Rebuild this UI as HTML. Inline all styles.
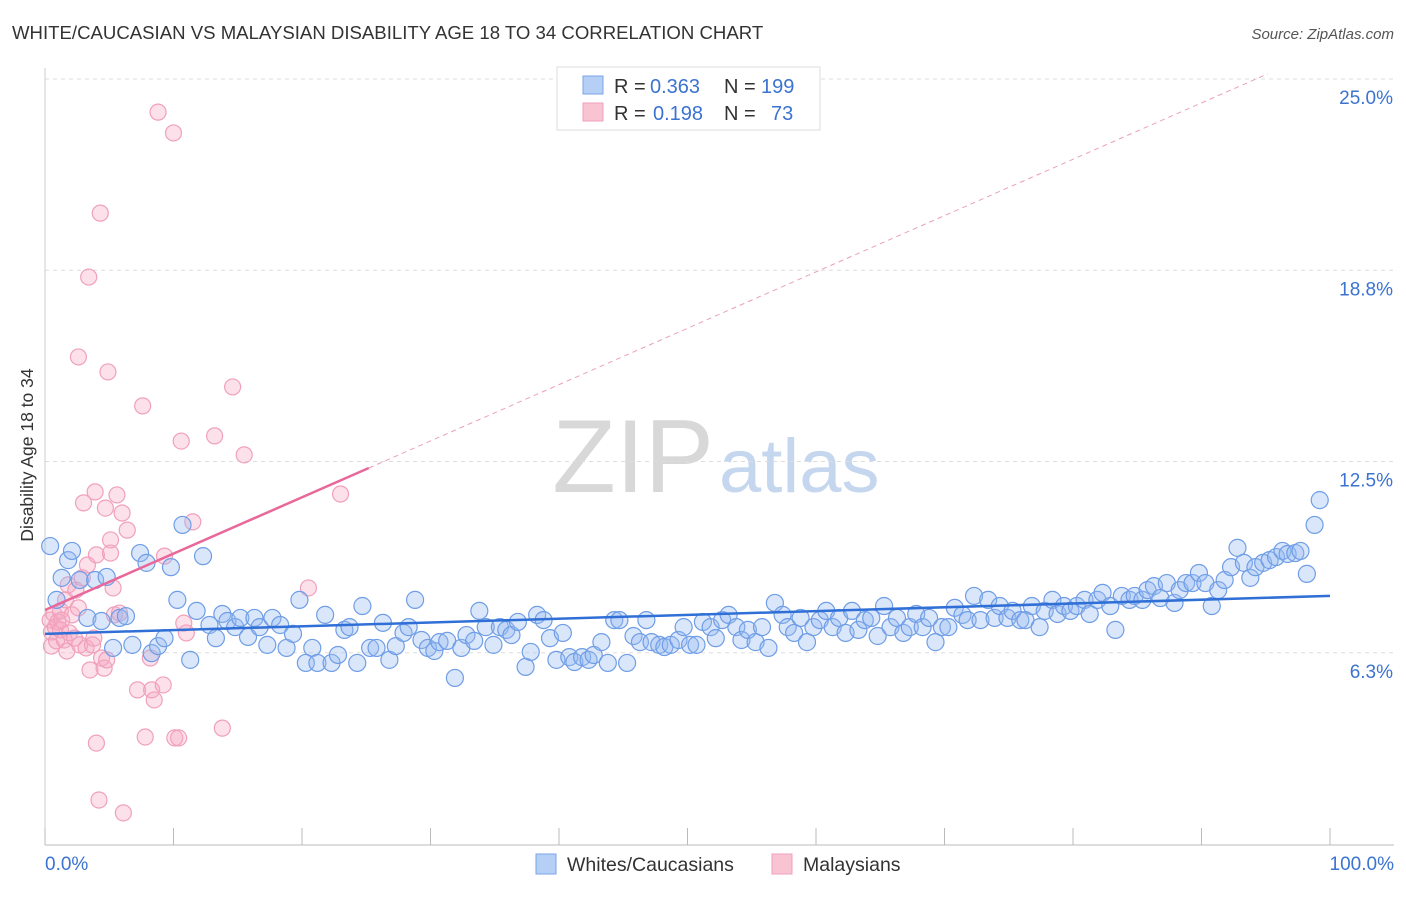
<!DOCTYPE html>
<html><head><meta charset="utf-8"><style>
body{margin:0;background:#fff;font-family:"Liberation Sans",sans-serif;}
svg text{font-family:"Liberation Sans",sans-serif;}
</style></head><body>
<svg id="chart" width="1406" height="892" viewBox="0 0 1406 892">
<text x="12" y="39" font-size="18.6" fill="#333">WHITE/CAUCASIAN VS MALAYSIAN DISABILITY AGE 18 TO 34 CORRELATION CHART</text>
<text x="1394" y="39" font-size="15" fill="#555" font-style="italic" text-anchor="end">Source: ZipAtlas.com</text>
<text x="714" y="492" font-size="104" fill="#d8d8d8" text-anchor="end" font-family="Liberation Serif">ZIP</text>
<text x="719" y="492" font-size="76" fill="#c5d7ee">atlas</text>
<g id="grid"></g>
<g id="axes"></g>
<g id="marks"></g>
<text x="33" y="455" font-size="17.5" fill="#333" text-anchor="middle" transform="rotate(-90 33 455)">Disability Age 18 to 34</text>
<text x="45" y="870" font-size="19" fill="#3b73d1">0.0%</text>
<text x="1394" y="870" font-size="19" fill="#3b73d1" text-anchor="end">100.0%</text>
<g>
<rect x="557" y="67" width="263" height="63" fill="#fff" stroke="#ddd"/>
<rect x="583" y="76" width="20" height="18" fill="#b5cff5" stroke="#7aa6e8"/>
<rect x="583" y="103" width="20" height="18" fill="#f8c4d4" stroke="#f0a0bb"/>
<text x="614" y="93" font-size="20" fill="#333">R =</text>
<text x="650" y="93" font-size="20" fill="#3b73d1">0.363</text>
<text x="724" y="93" font-size="20" fill="#333">N =</text>
<text x="761" y="93" font-size="20" fill="#3b73d1">199</text>
<text x="614" y="120" font-size="20" fill="#333">R =</text>
<text x="653" y="120" font-size="20" fill="#3b73d1">0.198</text>
<text x="724" y="120" font-size="20" fill="#333">N =</text>
<text x="771" y="120" font-size="20" fill="#3b73d1">73</text>
</g>
<g>
<rect x="536" y="854" width="20" height="20" fill="#b5cff5" stroke="#7aa6e8"/>
<text x="567" y="871" font-size="19.5" fill="#333">Whites/Caucasians</text>
<rect x="772" y="854" width="20" height="20" fill="#f8c4d4" stroke="#f0a0bb"/>
<text x="803" y="871" font-size="19.5" fill="#333">Malaysians</text>
</g>
</svg>
<script>
const yTicks=[6.25,12.5,18.75,25];
const yTickLabels=["6.3%","12.5%","18.8%","25.0%"];
const xTicks=[0,10,20,30,40,50,60,70,80,90,100];
const blueX=[0.4,0.9,1.3,1.8,2.1,2.7,3.3,3.9,4.4,4.8,5.3,5.8,6.3,6.8,7.4,7.9,8.3,8.8,9.3,9.8,10.3,10.7,11.3,11.8,12.3,12.8,13.3,13.8,14.2,14.8,15.2,15.8,16.3,16.7,17.3,17.7,18.3,18.8,19.3,19.8,20.3,20.8,21.2,21.8,22.3,22.8,23.3,23.7,24.3,24.7,25.3,25.8,26.3,26.8,27.3,27.9,28.3,28.8,29.3,29.8,30.3,30.7,31.3,31.9,32.4,32.8,33.4,33.8,34.3,34.9,35.4,35.9,36.3,36.8,37.4,37.8,38.3,38.8,39.3,39.8,40.3,40.8,41.2,41.8,42.3,42.7,43.3,43.8,44.3,44.7,45.3,45.8,46.3,46.8,47.2,47.8,48.2,48.7,49.3,49.7,50.2,50.7,51.2,51.8,52.2,52.7,53.2,53.8,54.2,54.7,55.3,55.8,56.3,56.8,57.4,57.8,58.3,58.8,59.3,59.8,60.3,60.8,61.3,61.8,62.3,62.8,63.3,63.8,64.3,64.8,65.3,65.8,66.3,66.8,67.3,67.8,68.3,68.8,69.3,69.8,70.3,70.8,71.4,71.8,72.3,72.8,73.4,73.9,74.3,74.9,75.3,75.9,76.3,76.8,77.4,77.8,78.4,78.8,79.3,79.8,80.3,80.9,81.3,81.9,82.3,82.9,83.3,83.8,84.4,84.8,85.4,85.8,86.3,86.8,87.3,87.9,88.3,88.8,89.3,89.8,90.3,90.8,91.3,91.8,92.3,92.8,93.3,93.8,94.2,94.8,95.3,95.8,96.3,96.7,97.3,97.7,98.2,98.8,99.2];
const blueY=[9.77,8.01,8.73,9.31,9.61,8.66,7.42,8.66,7.32,8.76,6.44,7.42,7.48,6.54,9.54,9.22,6.27,6.50,6.76,9.08,8.01,10.46,6.05,7.65,9.44,7.19,6.76,7.55,7.32,7.12,7.42,6.80,7.42,7.12,6.54,7.42,7.19,6.44,6.90,8.01,5.95,6.44,5.95,7.52,5.95,6.21,7.03,7.12,5.95,7.81,6.44,6.44,7.26,6.05,6.50,6.93,7.12,8.01,6.70,6.44,6.34,6.63,6.67,5.46,6.44,6.86,6.67,7.65,7.12,6.54,7.12,7.03,6.86,7.29,5.82,6.31,7.52,7.35,6.76,6.05,6.93,6.14,5.98,6.14,6.05,6.21,6.63,5.95,7.35,7.35,5.95,6.83,6.63,7.35,6.63,6.54,6.47,6.54,6.70,7.12,6.54,6.54,7.29,7.12,6.76,7.35,7.52,7.12,6.70,7.03,6.63,7.12,6.44,7.91,7.52,7.12,6.93,7.42,6.63,7.12,7.35,7.65,7.12,7.42,6.93,7.65,7.03,7.35,7.42,6.83,7.81,7.12,7.42,6.93,7.12,7.55,7.12,7.42,6.63,7.12,7.12,7.75,7.52,7.35,8.14,7.35,8.01,7.42,7.81,7.42,7.65,7.35,7.35,7.81,7.12,7.65,8.01,7.55,7.81,7.65,7.81,8.01,7.55,8.01,8.24,7.81,7.03,8.14,8.01,8.14,8.01,8.33,8.46,8.07,8.56,7.91,8.33,8.56,8.56,8.89,8.56,7.81,8.33,8.66,9.08,9.71,9.22,8.73,9.08,9.22,9.31,9.41,9.61,9.51,9.54,9.61,8.86,10.46,11.27];
const pinkX=[0.4,0.5,0.5,0.7,0.8,0.9,1.0,1.2,1.2,1.3,1.5,1.6,1.7,1.8,1.9,2.1,2.3,2.4,2.6,2.7,2.9,3.0,3.2,3.3,3.5,3.7,3.8,3.9,4.0,4.0,4.2,4.3,4.4,4.6,4.7,4.8,4.9,5.1,5.1,5.3,5.4,5.6,5.8,6.0,6.1,6.4,7.2,7.6,7.8,8.2,8.3,8.5,8.8,9.2,9.3,10.0,10.1,10.4,10.6,10.8,11.0,11.5,13.2,13.8,14.6,15.5,20.5,23.0,3.4,2.6];
const pinkY=[7.35,6.96,6.50,7.55,7.12,6.67,7.29,7.03,7.65,7.35,6.70,8.01,6.34,8.50,6.93,7.52,6.76,8.33,7.75,6.54,8.73,11.18,6.44,9.15,5.72,6.54,6.76,11.54,9.48,3.33,1.47,20.65,6.11,5.78,11.01,6.05,15.46,9.97,9.54,8.40,7.52,11.44,7.58,10.85,1.05,10.29,5.07,14.35,3.53,6.11,5.07,4.74,23.95,5.23,9.44,23.27,3.50,3.50,13.20,7.25,6.93,10.56,13.37,3.82,14.97,12.75,8.40,11.47,18.56,15.95];
const blueTrend=[6.90,8.14];
const pinkTrend=[7.68,12.32,25.2];
const pinkTrendX=[0,25.2,100];
const NS="http://www.w3.org/2000/svg";
const xs=v=>45+v*12.85;
const ys=v=>845-v*30.6;
function mk(tag,attrs,parent){const e=document.createElementNS(NS,tag);for(const k in attrs)e.setAttribute(k,attrs[k]);parent.appendChild(e);return e;}
const grid=document.getElementById('grid'),axes=document.getElementById('axes'),marks=document.getElementById('marks');
yTicks.forEach((t,i)=>{
 const l=mk('line',{x1:45,x2:1394,y1:ys(t)-1,y2:ys(t)-1,stroke:'#ddd','stroke-dasharray':'4,4'},grid);
 
 
 const tx=mk('text',{x:1393,y:ys(t)+24,'font-size':19,fill:'#3b73d1','text-anchor':'end'},grid);
 tx.textContent=yTickLabels[i];
 
 
});
const xa=mk('line',{x1:45,x2:1394,y1:845,y2:845,stroke:'#bbb'},axes);


const ya=mk('line',{x1:45,x2:45,y1:68,y2:845,stroke:'#ccc'},axes);


xTicks.forEach(t=>{
 const l=mk('line',{x1:xs(t),x2:xs(t),y1:828,y2:845,stroke:'#bbb'},axes);
 
 
});
pinkX.forEach((x,i)=>{
 const c=mk('circle',{cx:xs(x),cy:ys(pinkY[i]),r:8,fill:'rgba(246,170,196,0.35)',stroke:'#f0a0bb','stroke-width':1.2},marks);
 
 
});
blueX.forEach((x,i)=>{
 const c=mk('circle',{cx:xs(x),cy:ys(blueY[i]),r:8.5,fill:'rgba(150,185,240,0.35)',stroke:'#6f9de6','stroke-width':1.2},marks);
 
 
});
const bl=mk('line',{x1:xs(0),y1:ys(blueTrend[0]),x2:xs(100),y2:ys(blueTrend[1]),stroke:'#2f6fd6','stroke-width':2.5},marks);


const slope=(pinkTrend[1]-pinkTrend[0])/(pinkTrendX[1]-pinkTrendX[0]);
const xEnd=(pinkTrend[2]-pinkTrend[0])/slope;
const pl=mk('line',{x1:xs(0),y1:ys(pinkTrend[0]),x2:xs(pinkTrendX[1]),y2:ys(pinkTrend[1]),stroke:'#e8689a','stroke-width':2.5},marks);


const pd=mk('line',{x1:xs(pinkTrendX[1]),y1:ys(pinkTrend[1]),x2:xs(xEnd),y2:ys(pinkTrend[2]),stroke:'#eaa0ba','stroke-width':1,'stroke-dasharray':'5,4'},marks);


</script>
</body></html>
